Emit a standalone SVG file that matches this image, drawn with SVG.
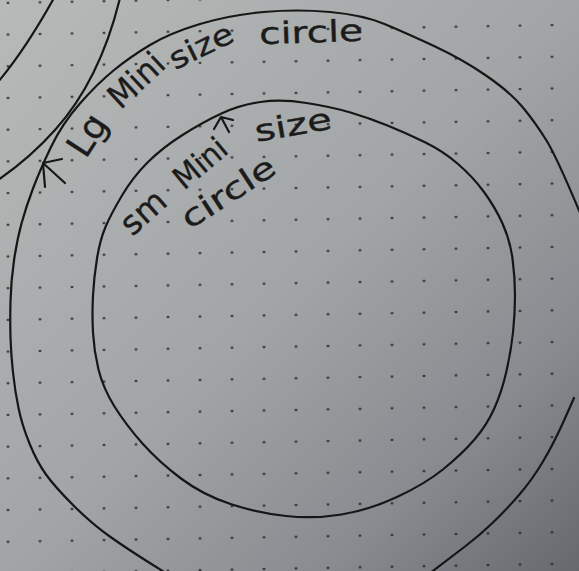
<svg xmlns="http://www.w3.org/2000/svg" width="579" height="571" viewBox="0 0 579 571">
  <defs>
    <linearGradient id="paperGrad" x1="0" y1="0" x2="1" y2="1">
      <stop offset="0" stop-color="#b8bab9"/>
      <stop offset="0.5" stop-color="#a1a5a6"/>
      <stop offset="0.78" stop-color="#888c90"/>
      <stop offset="1" stop-color="#65686d"/>
    </linearGradient>
    <pattern id="dotGrid" patternUnits="userSpaceOnUse" x="-8" y="-12.85" width="32" height="31.7" patternTransform="skewY(-1)">
      <circle cx="16" cy="15.85" r="1.2" fill="#222222"/>
    </pattern>
  </defs>
  <style>
    .ink { fill: none; stroke: #161616; stroke-width: 2.2; stroke-linecap: round; stroke-linejoin: round; }
    .hand { font-family: "DejaVu Sans", "Liberation Sans", sans-serif; fill: #1b1b1b; stroke: #1b1b1b; stroke-width: 0.35; text-anchor: middle; dominant-baseline: central; }
  </style>

  <g id="paper">
    <rect x="0" y="0" width="579" height="571" fill="url(#paperGrad)"/>
    <rect x="0" y="0" width="579" height="571" fill="url(#dotGrid)"/>
  </g>

  <g id="edge-curves">
    <path class="ink" d="M-2,82 Q25,50 54,-2"/>
    <path class="ink" d="M120,-2 Q100,80 55,130 Q30,158 -2,180"/>
  </g>

  <g id="large-circle">
    <path class="ink" d="M177,580 L153,565 Q129,550 110.5,537 Q92,524 73.5,505.5 Q55,487 46,474.5 Q37,462 29.5,443.5 Q22,425 18.5,408 Q15,391 13,372.5 Q11,354 10.5,337.5 Q10,321 10.5,301 Q11,281 14,260.5 Q17,240 21.5,223.5 Q26,207 33,188.5 Q40,170 51,147 Q62,124 79.5,104 Q97,84 113.5,70.5 Q130,57 150,45 Q170,33 200,24 Q230,15 263.5,12 Q297,9 330,12 Q363,15 384.5,24 Q406,33 434,46 Q462,59 486,75.5 Q510,92 522.5,107 Q535,122 546.5,140.5 Q558,159 588,232"/>
    <path class="ink" d="M574,398 L564,420.5 Q554,443 543,461.5 Q532,480 519,495 Q506,510 493,522.5 Q480,535 465,546.5 Q450,558 421,580"/>
  </g>

  <g id="small-circle">
    <path class="ink" d="M306.5,103 Q332,107 350.5,112.5 Q369,118 387.5,125.5 Q406,133 424.5,142 Q443,151 458,164 Q473,177 484,192 Q495,207 502.5,223.5 Q510,240 512.5,258.5 Q515,277 515,295.5 Q515,314 513,332.5 Q511,351 506.5,371 Q502,391 494.5,408 Q487,425 474.5,439.5 Q462,454 443.5,469 Q425,484 397,497 Q369,510 341.5,514.5 Q314,519 286,516 Q258,513 230.5,504 Q203,495 181,478.5 Q159,462 142.5,443.5 Q126,425 114.5,406.5 Q103,388 98.5,369.5 Q94,351 93,332.5 Q92,314 93,295.5 Q94,277 97,258.5 Q100,240 105.5,227 Q111,214 122,195.5 Q133,177 147.5,162.5 Q162,148 182.5,135 Q203,122 221.5,113.5 Q240,105 260.5,102 Q281,99 306.5,103 Z"/>
  </g>

  <g id="connectors">
    <path class="ink" d="M65,183 L43,163 M62,159 L43,163 L45,187"/>
    <path class="ink" d="M229,132 L221,117 M214,129 L221,117 L233,120"/>
  </g>

  <g id="label-large">
    <text class="hand" transform="translate(87,135) rotate(-57)" style="font-size:36px">Lg</text>
    <text class="hand" transform="translate(136,80) rotate(-43)" style="font-size:33px" textLength="64" lengthAdjust="spacingAndGlyphs">Mini</text>
    <text class="hand" transform="translate(201,46) rotate(-26)" style="font-size:30px" textLength="68" lengthAdjust="spacingAndGlyphs">size</text>
    <text class="hand" transform="translate(311,32) rotate(-2)" style="font-size:30px" textLength="104" lengthAdjust="spacingAndGlyphs">circle</text>
  </g>

  <g id="label-small">
    <text class="hand" transform="translate(143,212) rotate(-42)" style="font-size:33px">sm</text>
    <text class="hand" transform="translate(200,163) rotate(-40)" style="font-size:31px" textLength="60" lengthAdjust="spacingAndGlyphs">Mini</text>
    <text class="hand" transform="translate(293,125) rotate(-10)" style="font-size:30px" textLength="78" lengthAdjust="spacingAndGlyphs">size</text>
    <text class="hand" transform="translate(228,192) rotate(-33)" style="font-size:31px" textLength="106" lengthAdjust="spacingAndGlyphs">circle</text>
  </g>
</svg>
